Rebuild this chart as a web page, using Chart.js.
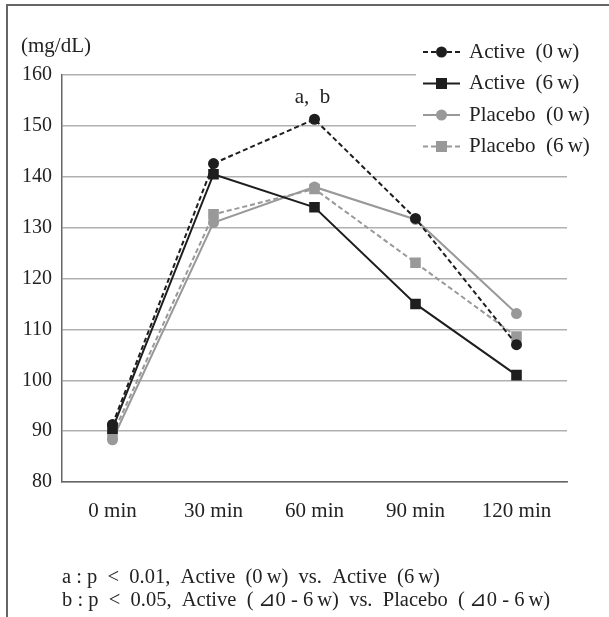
<!DOCTYPE html>
<html>
  <head>
    <meta charset="UTF-8">
    <title></title>
    <style>
      html, body { margin: 0; padding: 0; background: #fff; }
      #wrap { width: 609px; height: 617px; position: relative; }
    </style>
  </head>
  <body>
    <div id="wrap">
      <canvas id="lineChart" width="609" height="617"></canvas>
    </div>
  </body>
  <script src="https://cdn.jsdelivr.net/npm/chart.js@4/dist/chart.umd.min.js"></script>
  <script>
    const categories = ['0 min', '30 min', '60 min', '90 min', '120 min'];
    const active0 = [91.3, 142.6, 151.3, 131.8, 107.0];
    const active6 = [90.5, 140.5, 134.0, 115.0, 101.0];
    const placebo0 = [88.3, 131.0, 138.0, 131.6, 113.1];
    const placebo6 = [89.3, 132.6, 137.6, 123.1, 108.6];
    const seriesNames = ['Active\u2002(0\u2009w)', 'Active\u2002(6\u2009w)', 'Placebo\u2002(0\u2009w)', 'Placebo\u2002(6\u2009w)'];
    const yTicks = [80, 90, 100, 110, 120, 130, 140, 150, 160];
    const unitLabel = '(mg/dL)';
    const markText = 'a,  b';
    const notes = [
      'a : p  <  0.01,  Active\u2002(0\u2009w)\u2002vs.  Active\u2002(6\u2009w)',
      'b : p  <  0.05,  Active\u2002(\u2009⊿0 - 6\u2009w)\u2002vs.  Placebo\u2002(\u2009⊿0 - 6\u2009w)'
    ];

    const FONT = '"Liberation Serif", "DejaVu Serif", serif';
    const BLACK = '#1e1e1e';
    const GREY = '#999999';

    function makeSet(label, data, color, style, dash) {
      return {
        label: label,
        data: data,
        borderColor: color,
        backgroundColor: color,
        pointBackgroundColor: color,
        pointBorderColor: color,
        borderWidth: 2,
        borderDash: dash,
        pointStyle: style,
        pointRadius: style === 'rect' ? 7.5 : 5.5,
        pointBorderWidth: 0,
        tension: 0
      };
    }

    const datasets = [
      makeSet(seriesNames[0], active0, BLACK, 'circle', [5, 3]),
      makeSet(seriesNames[1], active6, BLACK, 'rect', []),
      makeSet(seriesNames[2], placebo0, GREY, 'circle', []),
      makeSet(seriesNames[3], placebo6, GREY, 'rect', [5, 3])
    ];

    // frame, unit, legend, annotation and footnotes
    const decor = {
      id: 'decor',
      beforeDraw(chart) {
        const ctx = chart.ctx;
        ctx.save();
        ctx.fillStyle = '#fff';
        ctx.fillRect(0, 0, chart.width, chart.height);
        ctx.strokeStyle = '#666';
        ctx.lineWidth = 2;
        ctx.beginPath();
        ctx.moveTo(7, 617);
        ctx.lineTo(7, 5);
        ctx.lineTo(609, 5);
        ctx.stroke();
        ctx.restore();
      },
      afterDatasetsDraw(chart) {
        const ctx = chart.ctx;
        const x = chart.scales.x, y = chart.scales.y;
        ctx.save();
        ctx.fillStyle = '#222';
        ctx.font = '21px ' + FONT;
        ctx.textBaseline = 'middle';
        ctx.textAlign = 'left';
        ctx.fillText(unitLabel, 21, 46);

        // annotation above the 60 min peak
        ctx.textAlign = 'center';
        ctx.fillText(markText, x.getPixelForValue(2) - 2, y.getPixelForValue(active0[2]) - 22);

        // legend
        ctx.fillStyle = '#fff';
        ctx.fillRect(416, 32, 188, 130);
        ctx.textAlign = 'left';
        datasets.forEach((d, i) => {
          const ry = 52 + i * 31.5;
          ctx.strokeStyle = d.borderColor;
          ctx.lineWidth = 2;
          ctx.setLineDash(d.borderDash);
          ctx.beginPath();
          ctx.moveTo(423, ry);
          ctx.lineTo(460, ry);
          ctx.stroke();
          ctx.setLineDash([]);
          ctx.fillStyle = d.borderColor;
          if (d.pointStyle === 'rect') {
            ctx.fillRect(441.5 - 5.5, ry - 5.5, 11, 11);
          } else {
            ctx.beginPath();
            ctx.arc(441.5, ry, 5.5, 0, Math.PI * 2);
            ctx.fill();
          }
          ctx.fillStyle = '#222';
          ctx.font = '21px ' + FONT;
          ctx.fillText(d.label, 469, ry);
        });

        // footnotes
        ctx.font = '20.5px ' + FONT;
        notes.forEach((t, i) => ctx.fillText(t, 62, 578 + i * 23));
        ctx.restore();
      }
    };

    const ctx = document.getElementById('lineChart').getContext('2d');
    const lineChart = new Chart(ctx, {
      type: 'line',
      data: { labels: categories, datasets: datasets },
      options: {
        responsive: false,
        animation: false,
        layout: { padding: { left: 0, top: 75, right: 42, bottom: 0 } },
        plugins: { legend: { display: false }, tooltip: { enabled: false } },
        scales: {
          x: {
            offset: true,
            grid: { display: false, drawTicks: false },
            border: { color: '#666', width: 1.5 },
            ticks: { color: '#222', padding: 17, font: { family: FONT, size: 21 } },
            afterFit(s) { s.height = 135; }
          },
          y: {
            min: 80,
            max: 160,
            afterBuildTicks(s) { s.ticks = yTicks.map(v => ({ value: v })); },
            grid: { color: '#b0b0b0', lineWidth: 1.5, drawTicks: false },
            border: { color: '#666', width: 1.5 },
            ticks: { color: '#222', padding: 10, font: { family: FONT, size: 20 } },
            afterFit(s) { s.width = 62; }
          }
        }
      },
      plugins: [decor]
    });
  </script>
</html>
